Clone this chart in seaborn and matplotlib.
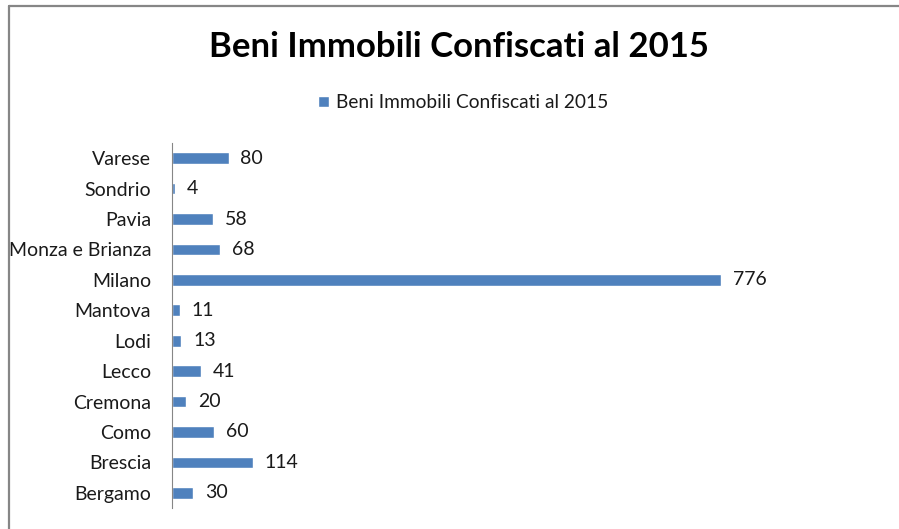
import matplotlib
matplotlib.use("Agg")
import matplotlib.pyplot as plt
from matplotlib.lines import Line2D
import seaborn as sns
import pandas as pd

provinces = ["Varese", "Sondrio", "Pavia", "Monza e Brianza", "Milano", "Mantova",
             "Lodi", "Lecco", "Cremona", "Como", "Brescia", "Bergamo"]
beni = [80, 4, 58, 68, 776, 11, 13, 41, 20, 60, 114, 30]
series_name = "Beni Immobili Confiscati al 2015"


def main():
    sns.set_style("white")
    plt.rcParams["font.family"] = ["Lato", "DejaVu Sans"]

    df = pd.DataFrame({"provincia": provinces, "beni": beni})

    fig = plt.figure(figsize=(8.99, 5.29), dpi=100)
    ax = fig.add_axes([172 / 899, 21 / 529, 637 / 899, 365 / 529])

    sns.barplot(data=df, y="provincia", x="beni", order=provinces, orient="h",
                color="#4F81BD", saturation=1, width=0.385, ax=ax,
                label=series_name)

    ax.set_xlim(0, 900)
    ax.set_xticks([])
    ax.set_xlabel("")
    ax.set_ylabel("")
    for s in ["top", "right", "bottom"]:
        ax.spines[s].set_visible(False)
    ax.spines["left"].set_color("#868686")
    ax.spines["left"].set_linewidth(0.8)
    ax.tick_params(axis="y", length=0, pad=15, labelsize=14, labelcolor="#1a1a1a")

    ax.bar_label(ax.containers[0], padding=8.5, fontsize=14, color="#1a1a1a")

    ax.legend(loc="center", bbox_to_anchor=(463 / 899, 1 - 103 / 529),
              bbox_transform=fig.transFigure, frameon=False, fontsize=13.8,
              handlelength=0.55, handleheight=0.55, handletextpad=0.35,
              labelcolor="#1a1a1a")

    fig.suptitle(series_name, x=459 / 899, y=1 - 47 / 529, va="center",
                 fontsize=25, fontweight="bold", color="black")

    # chart frame (Excel style)
    fig.add_artist(Line2D([9 / 899, 9 / 899], [0, 1 - 6 / 529], color="#868686",
                          linewidth=1.6, transform=fig.transFigure))
    fig.add_artist(Line2D([9 / 899, 1], [1 - 6 / 529, 1 - 6 / 529], color="#868686",
                          linewidth=1.6, transform=fig.transFigure))

    fig.savefig("out.png", dpi=100, facecolor="white")
    plt.close(fig)


if __name__ == "__main__":
    main()
